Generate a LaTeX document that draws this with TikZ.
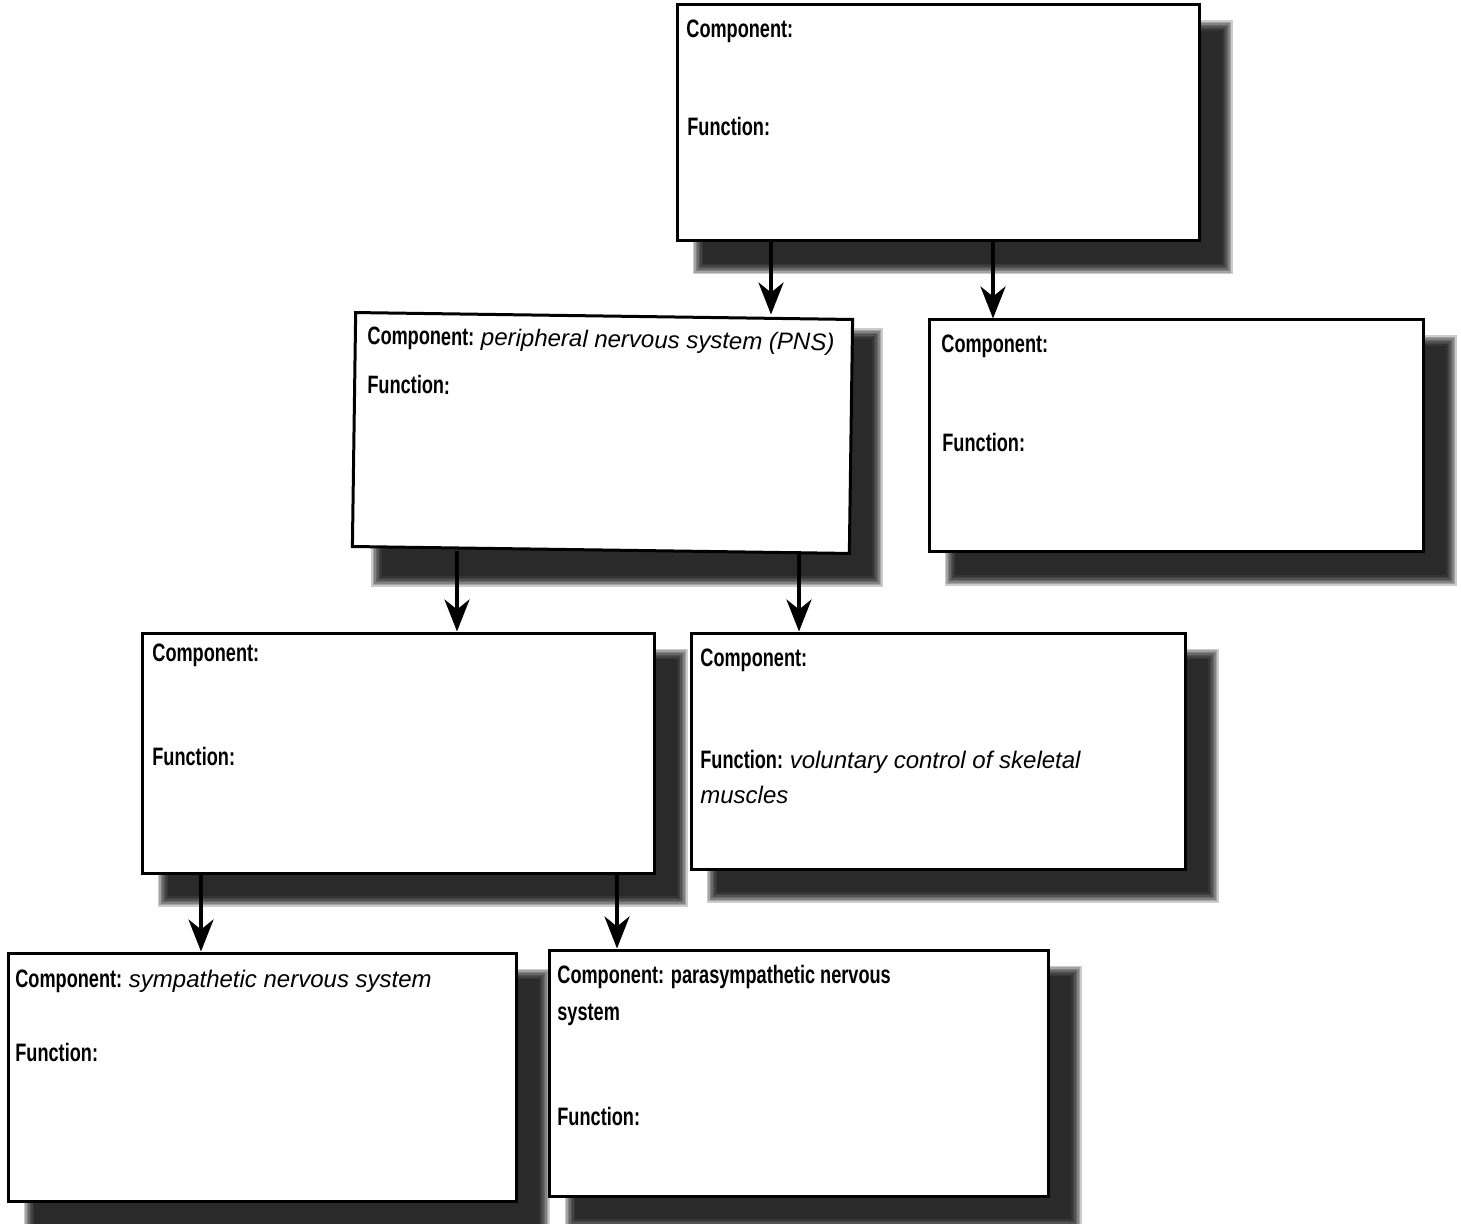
\documentclass[tikz,border=0pt]{standalone}
\usepackage{fontspec}
\setmainfont{Liberation Sans}
\newfontfamily\labfont[FakeStretch=0.72]{Liberation Sans}
\newcommand\valtxt[1]{{\normalfont\itshape\fontsize{12}{17.5}\selectfont #1}}
\usetikzlibrary{arrows.meta,backgrounds}
\begin{document}
\begin{tikzpicture}[x=0.5pt,y=-0.5pt,
  box/.style={draw=black, line width=1.5pt, fill=white, rectangle, inner sep=0pt},
  lab/.style={anchor=base west, inner sep=0pt, font=\labfont\bfseries\fontsize{12.6}{17.5}\selectfont},
  arr/.style={line width=2pt, -{Stealth[length=16pt,width=12.5pt,inset=5pt]}},
  shad/.style={fill=black, opacity=0.2}]
\useasboundingbox (0,0) rectangle (1461,1224);
% boxes
\node[box, minimum width=261pt, minimum height=118pt] (A) at (938,123) {};
\node[box, minimum width=248.5pt, minimum height=117pt, rotate=-0.8] (B) at (602.5,433) {};
\node[box, minimum width=247pt, minimum height=116pt] (C) at (1176,436) {};
\node[box, minimum width=256pt, minimum height=120pt] (D) at (398,753) {};
\node[box, minimum width=247pt, minimum height=118pt] (E) at (938,751) {};
\node[box, minimum width=254pt, minimum height=124pt] (F) at (262,1077) {};
\node[box, minimum width=249.5pt, minimum height=123pt] (G) at (798.5,1073) {};
% shadows
\begin{scope}[on background layer]
\foreach \n in {A,B,C,D,E,F,G}{
  \foreach \i in {0,...,7}{
    \fill[shad] ([shift={(17+\i*1.5,17+\i*1.5)}]\n.north west) rectangle ([shift={(32-\i*1.5,32-\i*1.5)}]\n.south east);
  }
}
\end{scope}
% texts
\node[lab] (a1) at (686,38) {Component:};
\node[lab] (a2) at (687,136) {Function:};
\node[lab, rotate=-0.8] (b1) at (367,344) {Component: \valtxt{peripheral nervous system (PNS)}};
\node[lab, rotate=-0.8] (b2) at (367,393) {Function:};
\node[lab] (c1) at (941,353) {Component:};
\node[lab] (c2) at (942,452) {Function:};
\node[lab] (d1) at (152,661) {Component:};
\node[lab] (d2) at (152,765) {Function:};
\node[lab] (e1) at (700,666) {Component:};
\node[lab] (e2) at (700,768) {Function: \valtxt{voluntary control of skeletal}};
\node[lab] (e3) at (700,803) {\valtxt{muscles}};
\node[lab] (f1) at (15,987) {Component: \valtxt{sympathetic nervous system}};
\node[lab] (f2) at (15,1061) {Function:};
\node[lab] (g1) at (557,983) {Component: parasympathetic nervous};
\node[lab] (g2) at (557,1020) {system};
\node[lab] (g3) at (557,1125) {Function:};
% arrows
\coordinate (p1) at (771,0);
\coordinate (p2) at (993,0);
\coordinate (p3) at (457,0);
\coordinate (p4) at (799,0);
\coordinate (p5) at (201,0);
\coordinate (p6) at (617,0);
\draw[arr] (A.south -| p1) -- (B.north -| p1);
\draw[arr] (A.south -| p2) -- (C.north -| p2);
\draw[arr] (B.south -| p3) -- (D.north -| p3);
\draw[arr] (B.south -| p4) -- (E.north -| p4);
\draw[arr] (D.south -| p5) -- (F.north -| p5);
\draw[arr] (D.south -| p6) -- (G.north -| p6);
\end{tikzpicture}
\end{document}
